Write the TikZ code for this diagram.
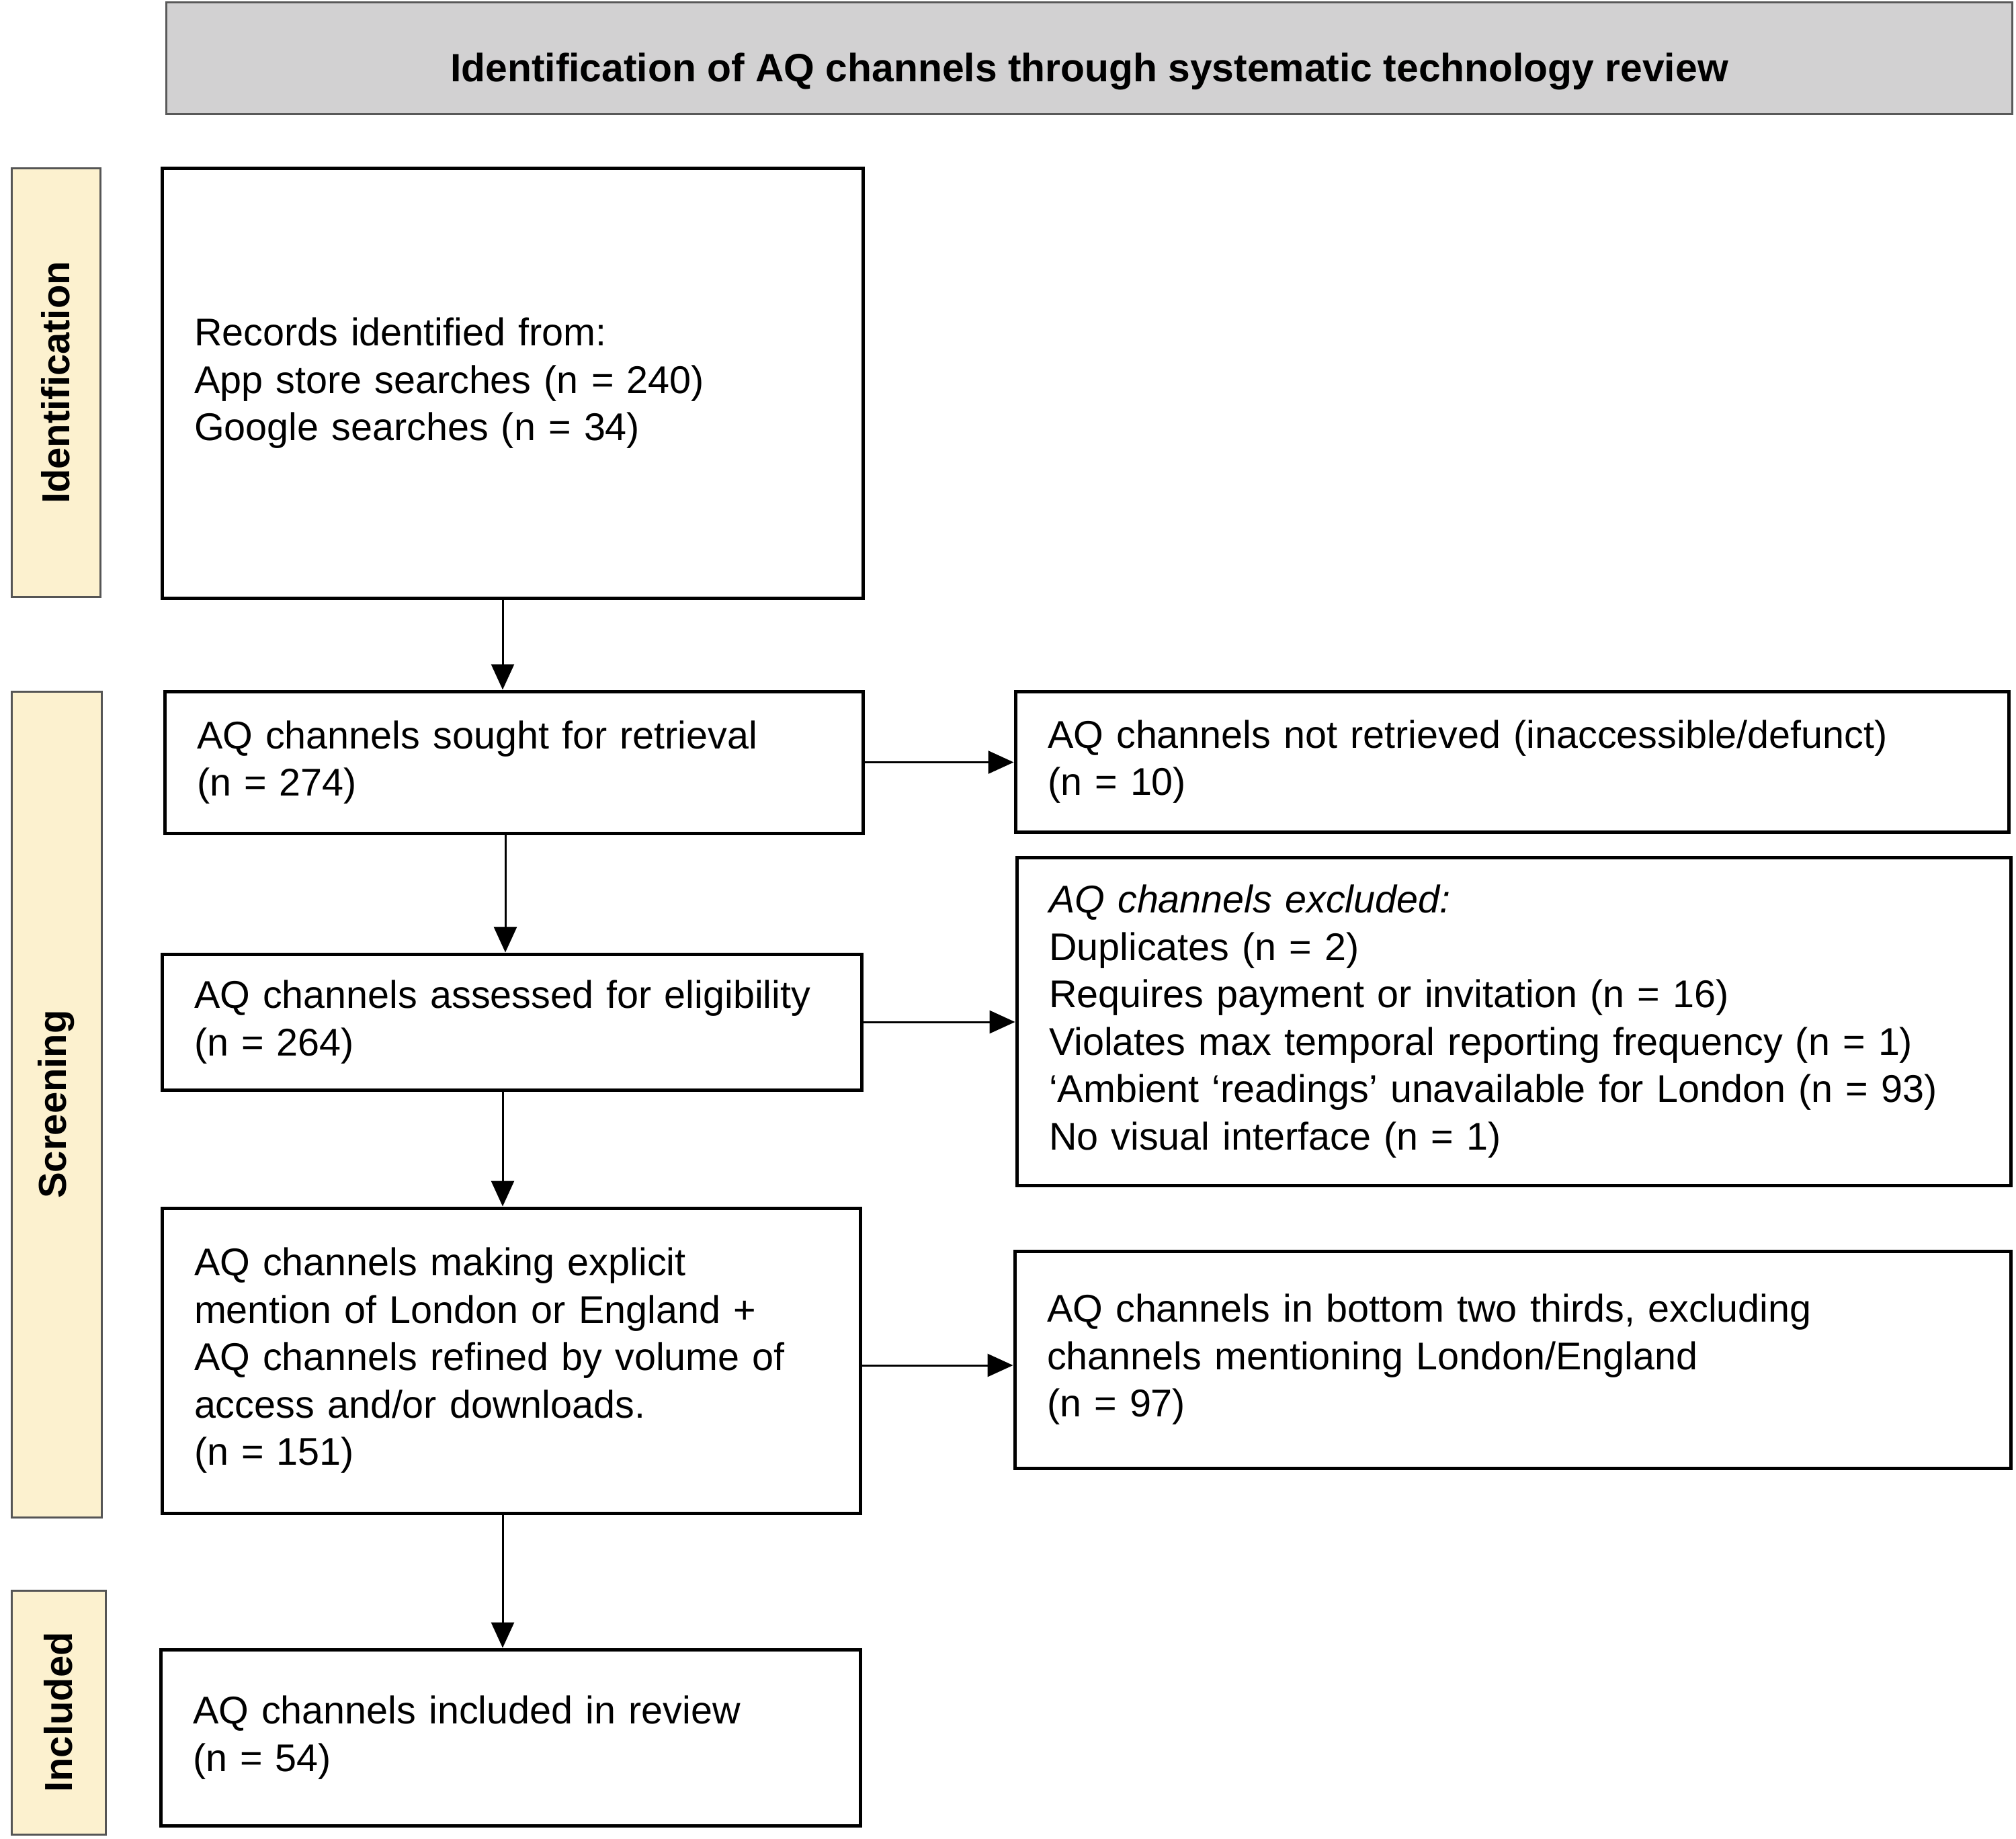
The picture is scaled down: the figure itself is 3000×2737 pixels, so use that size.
\documentclass[tikz,border=0pt]{standalone}
\usepackage{fontspec}
\setmainfont{Liberation Sans}
\usetikzlibrary{arrows.meta}
\definecolor{titlegray}{HTML}{D2D1D2}
\definecolor{sideyellow}{HTML}{FCF1CF}
\definecolor{sideedge}{HTML}{555555}
\tikzset{
  box/.style={draw=black, line width=5pt, rectangle, align=left, inner xsep=48pt, inner ysep=0pt,
    font=\fontsize{57.5}{70.5}\selectfont},
  sidelabel/.style={draw=sideedge, line width=3pt, fill=sideyellow, rotate=90, inner sep=0pt,
    font=\bfseries\fontsize{58}{70}\selectfont},
  arr/.style={line width=3pt, -{Triangle[length=38pt,width=34pt]}},
}
\begin{document}
\begin{tikzpicture}[x=1pt,y=-1pt]
\useasboundingbox (0,0) rectangle (3000,2737);
% title
\node[draw=gray!70!black, line width=3pt, fill=titlegray, minimum width=2747pt, minimum height=166pt, inner sep=0pt] (title) at (1620.5,87) {};
\node[font=\bfseries\fontsize{58.8}{70}\selectfont, inner sep=0pt] (titletext) at (1621,106) {Identification of AQ channels through systematic technology review};
% side labels
\node[sidelabel, minimum width=637pt, minimum height=132pt] (sid) at (83,569.5) {Identification};
\node[sidelabel, minimum width=1229pt, minimum height=134pt] (sscr) at (84,1643.5) {Screening};
\node[sidelabel, minimum width=363pt, minimum height=140pt] (sinc) at (87,2548.5) {Included};
% main boxes
\node[box, minimum width=1043pt, minimum height=639pt, text width=947pt] (b1) at (762.5,570.5)
  {Records identified from:\\App store searches (n = 240)\\Google searches (n = 34)};
\node[box, minimum width=1039pt, minimum height=211pt, text width=943pt] (b2) at (764.5,1134.5)
  {AQ channels sought for retrieval\\(n = 274)};
\node[box, minimum width=1478pt, minimum height=209pt, text width=1382pt] (b3) at (2250,1133.5)
  {AQ channels not retrieved (inaccessible/defunct)\\(n = 10)};
\node[box, minimum width=1041pt, minimum height=202pt, text width=945pt] (b4) at (761.5,1521)
  {AQ channels assessed for eligibility\\(n = 264)};
\node[box, minimum width=1479pt, minimum height=488pt, text width=1383pt] (b5) at (2252.5,1520)
  {\textit{AQ channels excluded:}\\Duplicates (n = 2)\\Requires payment or invitation (n = 16)\\Violates max temporal reporting frequency (n = 1)\\‘Ambient ‘readings’ unavailable for London (n = 93)\\No visual interface (n = 1)};
\node[box, minimum width=1039pt, minimum height=454pt, text width=943pt] (b6) at (760.5,2025)
  {AQ channels making explicit\\mention of London or England +\\AQ channels refined by volume of\\access and/or downloads.\\(n = 151)};
\node[box, minimum width=1482pt, minimum height=323pt, text width=1386pt] (b7) at (2251,2023.5)
  {AQ channels in bottom two thirds, excluding\\channels mentioning London/England\\(n = 97)};
\node[box, minimum width=1041pt, minimum height=262pt, text width=945pt] (b8) at (759.5,2586)
  {AQ channels included in review\\(n = 54)};
% arrows
\coordinate (ax) at (748,0);
\coordinate (ax2) at (752,0);
\draw[arr] (ax |- b1.south) -- (ax |- b2.north);
\draw[arr] (ax2 |- b2.south) -- (ax2 |- b4.north);
\draw[arr] (ax |- b4.south) -- (ax |- b6.north);
\draw[arr] (ax |- b6.south) -- (ax |- b8.north);
\draw[arr] (b2.east) -- (b2.east -| b3.west);
\draw[arr] (b4.east) -- (b4.east -| b5.west);
\draw[arr] ([yshift=-7pt]b6.east) -- ([yshift=-7pt]b6.east -| b7.west);
\end{tikzpicture}
\end{document}
